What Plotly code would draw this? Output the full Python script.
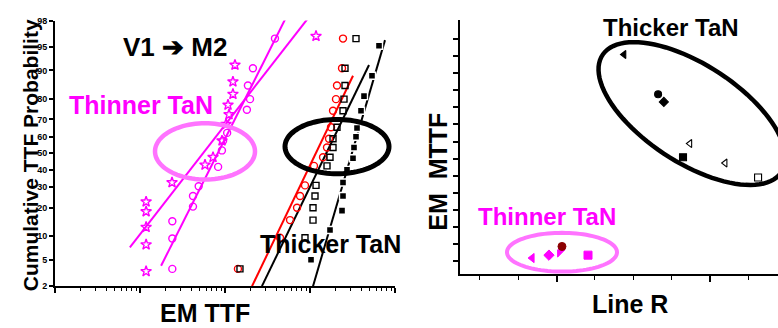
import math
from statistics import NormalDist
import plotly.graph_objects as go

W, H = 778, 328

# ---------------- left panel: cumulative TTF probability (V1 -> M2) ----------------
# failure probability in percent, time-to-fail in arbitrary units (log axis)
star_ttf = [1177, 131, 124, 124, 108.5, 111.5, 102.8, 92.2, 72.3, 58.2, 23.8, 11.8, 11.8, 11.8, 11.8, 11.8]
star_prob = [96.5, 91.4, 86.6, 82.0, 77.3, 72.6, 67.4, 57.7, 47.6, 42.9, 32.6, 22.7, 18.4, 12.7, 7.9, 3.4]

circ_ttf = [387, 213, 186, 197, 181, 106, 95, 92, 83, 49, 42, 42, 24, 24, 24]
circ_prob = [96.2, 90.6, 85.3, 79.9, 75.0, 62.4, 57.7, 51.8, 41.7, 30.5, 25.5, 20.5, 14.7, 9.4, 3.7]

red_ttf = [2445, 2380, 2078, 2022, 1865, 1766, 1673, 1585, 1423, 1114, 873, 763, 704, 582, 444, 142]
red_prob = [96.2, 90.6, 85.3, 79.9, 74.5, 65.7, 58.9, 53.6, 47.6, 42.3, 31.0, 25.5, 20.0, 15.1, 9.6, 3.7]

open_sq_ttf = [3477, 2581, 2581, 2512, 2445, 2078, 1865, 1865, 1719, 1585, 1177, 1145, 1085, 1085, 873, 150]
open_sq_prob = [96.2, 90.6, 85.3, 79.9, 74.5, 65.7, 58.9, 53.6, 47.6, 42.3, 31.0, 25.5, 20.0, 15.1, 9.6, 3.7]

fill_sq_ttf = [6483, 5362, 4318, 3981, 3573, 3477, 3293, 3205, 2725, 2445, 2445, 2380, 1719, 1028]
fill_sq_prob = [95.2, 88.5, 81.2, 74.5, 65.2, 60.1, 53.6, 47.0, 39.9, 32.6, 25.5, 18.8, 11.8, 5.0]

# fitted lognormal lines (end points)
star_fit_ttf, star_fit_prob = [7.6, 922], [7.3, 98.07]
circ_fit_ttf, circ_fit_prob = [17.7, 508], [4.1, 98.07]
red_fit_ttf, red_fit_prob = [208, 3205], [2.0, 88.5]
open_fit_ttf, open_fit_prob = [272, 4945], [2.0, 91.4]
fill_fit_ttf, fill_fit_prob = [1085, 7627], [2.0, 96.0]

prob_ticks = [98, 95, 90, 80, 70, 60, 50, 40, 30, 20, 10, 5, 2]

# ---------------- right panel: EM MTTF vs line resistance ----------------
thick_r = [4.76, 5.65, 5.80, 6.48, 6.30, 7.40, 8.26]
thick_mttf = [13.1, 10.77, 10.32, 7.88, 7.08, 6.74, 5.89]
thick_sym = ["triangle-left", "circle", "diamond", "triangle-left-open", "square", "triangle-left-open", "square-open"]

thin_r = [2.36, 2.80, 3.09, 3.14, 3.82]
thin_mttf = [1.17, 1.34, 1.51, 1.85, 1.34]
thin_sym = ["triangle-left", "diamond", "triangle-nw", "circle", "square"]
thin_col = ["#ff00ff", "#ff00ff", "#ff00ff", "#8b0000", "#ff00ff"]

nd = NormalDist()


def zq(ps):
    return [nd.inv_cdf(p / 100.0) for p in ps]


MAG = "#ff00ff"
PINK = "#ff73ff"
FONT = "Liberation Sans, Arial, sans-serif"

fig = go.Figure()


def line(x, p, color):
    fig.add_trace(go.Scatter(x=x, y=zq(p), mode="lines", xaxis="x", yaxis="y",
                             line=dict(color=color, width=2), hoverinfo="skip"))


def pts(x, p, sym, color, size=8, edge=None):
    fig.add_trace(go.Scatter(
        x=x, y=zq(p), mode="markers", xaxis="x", yaxis="y",
        marker=dict(symbol=sym, size=size, color=color,
                    line=dict(color=edge or color, width=1.4))))


line(star_fit_ttf, star_fit_prob, MAG)
line(circ_fit_ttf, circ_fit_prob, MAG)
line(red_fit_ttf, red_fit_prob, "#ff0000")
line(open_fit_ttf, open_fit_prob, "black")
line(fill_fit_ttf, fill_fit_prob, "black")

pts(star_ttf, star_prob, "star-open", MAG, 8)
pts(circ_ttf, circ_prob, "circle-open", MAG, 7)
pts(red_ttf, red_prob, "circle-open", "#ff0000", 7)
pts(open_sq_ttf, open_sq_prob, "square-open", "black", 6)
pts(fill_sq_ttf, fill_sq_prob, "square", "black", 7, edge="white")

fig.add_trace(go.Scatter(x=thick_r, y=thick_mttf, mode="markers", xaxis="x2", yaxis="y2",
                         marker=dict(symbol=thick_sym, size=7, color="black",
                                     line=dict(color="black", width=1.1))))
fig.add_trace(go.Scatter(x=thin_r, y=thin_mttf, mode="markers", xaxis="x2", yaxis="y2",
                         marker=dict(symbol=thin_sym, size=8, color=thin_col,
                                     line=dict(color=thin_col, width=1))))


def px2paper(x, y):
    return x / W, 1 - y / H


def ellipse(cx, cy, a, b, ang, color, width):
    t = math.radians(ang)
    pts_ = []
    for i in range(97):
        s = 2 * math.pi * i / 96
        x = cx + a * math.cos(s) * math.cos(t) - b * math.sin(s) * math.sin(t)
        y = cy + a * math.cos(s) * math.sin(t) + b * math.sin(s) * math.cos(t)
        px, py = px2paper(x, y)
        pts_.append(f"{px:.5f},{py:.5f}")
    path = "M" + " L".join(pts_) + " Z"
    fig.add_shape(type="path", path=path, xref="paper", yref="paper",
                  line=dict(color=color, width=width))


ellipse(205, 151, 50, 29, 0, PINK, 4.5)
ellipse(337, 146, 52, 28, 0, "black", 5)
ellipse(562, 255, 55, 20, 0, PINK, 4)
ellipse(692, 112, 108, 50, 34.4, "black", 4.5)


def text(s, x, y, size, color="black", angle=0):
    px, py = px2paper(x, y)
    fig.add_annotation(text=f"<b>{s}</b>", x=px, y=py, xref="paper", yref="paper",
                       showarrow=False, textangle=angle, xanchor="center", yanchor="middle",
                       font=dict(family=FONT, size=size, color=color))


text("V1 \u2794 M2", 175, 43, 26)
text("Thinner TaN", 141, 103, 25, MAG)
text("Thicker TaN", 330, 246, 25)
text("EM TTF", 205, 318, 25)
text("Cumulative TTF Probability", 30, 155, 21, angle=-90)
text("Thicker TaN", 671, 23, 24)
text("Thinner TaN", 547, 218, 24, MAG)
text("EM  MTTF", 438, 172, 25, angle=-90)
text("Line R", 630, 308, 25)

# axis domains in paper units
lx0, lx1 = 55 / W, 395 / W
ly0, ly1 = 1 - 290 / H, 1 - 16 / H
rx0, rx1 = 460 / W, 1.0
ry0, ry1 = 1 - 277 / H, 1 - 15 / H

minor_log = [m * 10 ** d for d in range(4) for m in range(2, 10)]

fig.update_layout(
    width=W, height=H, margin=dict(l=0, r=0, t=0, b=0),
    paper_bgcolor="white", plot_bgcolor="white", showlegend=False,
    xaxis=dict(type="log", domain=[lx0, lx1], range=[0, 4], anchor="y",
               showline=True, linecolor="black", linewidth=2, showgrid=False, zeroline=False,
               ticks="outside", ticklen=5, tickwidth=1.5, tickcolor="black",
               tickvals=[1, 10, 100, 1000, 10000], showticklabels=False,
               minor=dict(tickvals=minor_log, ticks="outside", ticklen=3, tickwidth=1.2,
                          tickcolor="black", showgrid=False)),
    yaxis=dict(domain=[ly0, ly1], range=[nd.inv_cdf(0.02), nd.inv_cdf(0.98)], anchor="x",
               showline=True, linecolor="black", linewidth=2, showgrid=False, zeroline=False,
               ticks="outside", ticklen=4, tickwidth=1.5, tickcolor="black",
               tickvals=zq(prob_ticks), ticktext=[f"<b>{v}</b>" for v in prob_ticks],
               tickfont=dict(family=FONT, size=9, color="black")),
    xaxis2=dict(domain=[rx0, rx1], range=[0.478, 8.78], anchor="y2",
                showline=True, linecolor="black", linewidth=2, showgrid=False, zeroline=False,
                ticks="outside", ticklen=6, tickwidth=1.5, tickcolor="black",
                tickvals=[3, 7], showticklabels=False,
                minor=dict(tickvals=[1, 2, 4, 5, 6, 8], ticks="outside", ticklen=4,
                           tickwidth=1.2, tickcolor="black", showgrid=False)),
    yaxis2=dict(domain=[ry0, ry1], range=[0.261, 15.15], anchor="x2",
                showline=True, linecolor="black", linewidth=2, showgrid=False, zeroline=False,
                ticks="outside", ticklen=5, tickwidth=1.5, tickcolor="black",
                tickvals=list(range(1, 15)), showticklabels=False),
)

fig.write_html("out.html")
